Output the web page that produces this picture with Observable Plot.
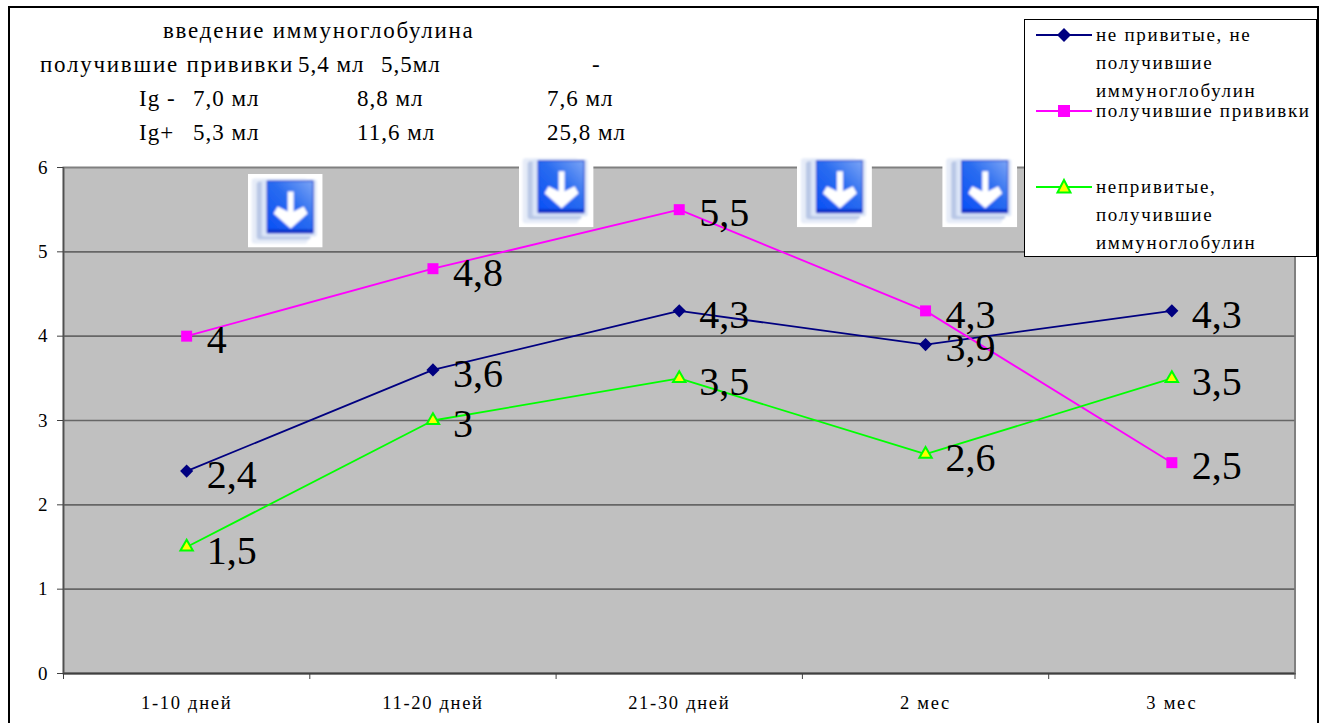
<!DOCTYPE html>
<html lang="ru">
<head>
<meta charset="utf-8">
<script src="https://cdn.jsdelivr.net/npm/d3@7"></script>
<script src="https://cdn.jsdelivr.net/npm/@observablehq/plot@0.6"></script>
<style>
  html, body { margin: 0; padding: 0; background: #fff; overflow: hidden; }
  svg { display: block; }
  g[aria-label="x-axis tick label"] text { letter-spacing: 1.7px; }
</style>
</head>
<body>
<div id="chart"></div>
<script>
// Периоды наблюдения
const periods = ["1-10 дней", "11-20 дней", "21-30 дней", "2 мес", "3 мес"];

// Значения по группам
const unvaccinatedNoIg = [2.4, 3.6, 4.3, 3.9, 4.3];
const vaccinated = [4, 4.8, 5.5, 4.3, 2.5];
const unvaccinatedIg = [1.5, 3, 3.5, 2.6, 3.5];

const seriesNames = [
  ["не привитые, не", "получившие", "иммуноглобулин"],
  ["получившие прививки"],
  ["непривитые,", "получившие", "иммуноглобулин"]
];

// Таблица над графиком
const noteRows = [
  ["введение иммуноглобулина"],
  ["получившие прививки", "5,4 мл", "5,5мл", "-"],
  ["Ig -", "7,0 мл", "8,8 мл", "7,6 мл"],
  ["Ig+", "5,3 мл", "11,6 мл", "25,8 мл"]
];

// Значки-стрелки: положение в единицах осей (номер периода, значение)
const arrowPeriod = [0.4, 1.5, 2.63, 3.22];
const arrowLevel = [5.49, 5.73, 5.73, 5.73];

const styles = [
  {color: "#000080", fill: "#000080", symbol: "diamond2", r: 5.9, sw: 0},
  {color: "#ff00ff", fill: "#ff00ff", symbol: "square", r: 6.2, sw: 0},
  {color: "#00ff00", fill: "#ffff00", symbol: "triangle", r: 4.6, sw: 2}
];
const columns = [unvaccinatedNoIg, vaccinated, unvaccinatedIg];

const rows = columns.flatMap((values, s) =>
  values.map((value, i) => ({series: s, index: i, value}))
);

const serif = "'Liberation Serif', serif";

const icon = "data:image/svg+xml," + encodeURIComponent(`
<svg xmlns="http://www.w3.org/2000/svg" viewBox="0 0 75 74">
  <defs>
    <linearGradient id="g" x1="0" y1="1" x2="1" y2="0">
      <stop offset="0" stop-color="#0a50f5"/><stop offset="0.55" stop-color="#2a6cf0"/><stop offset="1" stop-color="#7ba4f5"/>
    </linearGradient>
    <filter id="b" x="-5%" y="-5%" width="110%" height="110%"><feGaussianBlur stdDeviation="0.9"/></filter>
  </defs>
  <rect width="75" height="74" fill="#fff"/>
  <g filter="url(#b)">
    <rect x="4" y="5" width="56" height="65" rx="3" fill="#e6ecf8"/>
    <rect x="9" y="8" width="54" height="58" rx="3" fill="#b9c8e6"/>
    <rect x="14" y="6" width="55" height="57" rx="2" fill="#dbe5f8"/>
    <rect x="19" y="7" width="47" height="53" rx="1" fill="#0a32c8"/>
    <rect x="20" y="8" width="45" height="48" rx="1" fill="url(#g)"/>
    <path d="M40 18h6v20l10-5 4 7-17 15-17-15 4-7 10 5z" fill="#fff"/>
  </g>
</svg>`);

const lineMarks = columns.map((values, s) =>
  Plot.line(rows.filter(d => d.series === s), {
    x: "index", y: "value", stroke: styles[s].color, strokeWidth: 1.8
  })
);
const dotMarks = columns.map((values, s) =>
  Plot.dot(rows.filter(d => d.series === s), {
    x: "index", y: "value", symbol: () => styles[s].symbol, r: styles[s].r,
    fill: styles[s].fill, stroke: styles[s].sw ? styles[s].color : "none",
    strokeWidth: styles[s].sw
  })
);

const plot = Plot.plot({
  width: 1319,
  height: 723,
  marginLeft: 63,
  marginRight: 24.5,
  marginTop: 167,
  marginBottom: 50,
  style: {background: "transparent", fontFamily: serif},
  x: {domain: [-0.5, 4.5]},
  y: {domain: [0, 6]},
  marks: [
    Plot.frame({fill: "#c0c0c0", stroke: "#808080", strokeWidth: 2}),
    Plot.ruleY([1, 2, 3, 4, 5], {stroke: "#666666", strokeWidth: 1.6}),
    Plot.ruleY([0], {stroke: "#404040", strokeWidth: 2}),
    Plot.ruleX([-0.5], {stroke: "#505050", strokeWidth: 1.5}),
    Plot.axisY({ticks: [0, 1, 2, 3, 4, 5, 6], tickFormat: d3.format("d"), tickSize: 6, tickPadding: 10, fontSize: 19, stroke: "#404040", color: "#000"}),
    Plot.axisX({ticks: [-0.5, 0.5, 1.5, 2.5, 3.5, 4.5], tickFormat: () => "", tickSize: 6, stroke: "#404040"}),
    Plot.axisX({ticks: [0, 1, 2, 3, 4], tickFormat: i => periods[i], tickSize: 0, tickPadding: 22, fontSize: 18.5, color: "#000"}),
    Plot.image(arrowPeriod.map((p, i) => ({p, l: arrowLevel[i]})), {
      x: "p", y: "l", src: () => icon, width: 75, height: 74
    }),
    ...lineMarks,
    ...dotMarks,
    Plot.text(rows, {
      x: "index", y: "value",
      text: d => String(d.value).replace(".", ","),
      textAnchor: "start", dx: 20, dy: 4,
      fontSize: 40, fill: "#000"
    })
  ]
});

document.getElementById("chart").append(plot);

// Рамка, таблица над графиком и легенда
const svg = d3.select(plot);
svg.selectAll("text").filter(function () { return periods.includes(this.textContent); })
  .style("letter-spacing", "1.7px");
svg.insert("rect", ":first-child")
  .attr("x", 9).attr("y", 7).attr("width", 1309).attr("height", 730)
  .attr("fill", "#fff").attr("stroke", "#000").attr("stroke-width", 2);

const noteX = [[163], [40, 298, 381, 592], [139, 193, 357, 547], [139, 193, 357, 547]];
const noteY = [31, 65, 99, 133];
const notes = svg.append("g").attr("font-family", serif).attr("font-size", 23)
  .attr("fill", "#000").attr("text-anchor", "start");
noteRows.forEach((row, r) => row.forEach((t, c) => {
  notes.append("text").attr("x", noteX[r][c]).attr("y", noteY[r]).attr("dy", "0.32em")
    .attr("letter-spacing", /^[а-я ]+$/.test(t) ? 1.75 : 1).text(t);
}));

const legend = svg.append("g").attr("font-family", serif).attr("font-size", 19)
  .attr("letter-spacing", 1.7).attr("text-anchor", "start");
legend.append("rect").attr("x", 1024.5).attr("y", 19.5).attr("width", 292).attr("height", 237)
  .attr("fill", "#fff").attr("stroke", "#000");
const entryY = [35, 111, 187];
seriesNames.forEach((lines, s) => {
  const y = entryY[s], st = styles[s];
  legend.append("line").attr("x1", 1036).attr("x2", 1092).attr("y1", y).attr("y2", y)
    .attr("stroke", st.color).attr("stroke-width", 1.8);
  legend.append("path").attr("transform", `translate(1064,${y})`)
    .attr("d", s === 0 ? "M0-7L7 0L0 7L-7 0Z" : s === 1 ? "M-6-6H6V6H-6Z" : "M0-7L6.5 5.5H-6.5Z")
    .attr("fill", st.fill).attr("stroke", st.sw ? st.color : "none").attr("stroke-width", st.sw);
  lines.forEach((t, i) => {
    legend.append("text").attr("x", 1096).attr("y", y + i * 28).attr("dy", "0.32em").text(t);
  });
});
</script>
</body>
</html>
